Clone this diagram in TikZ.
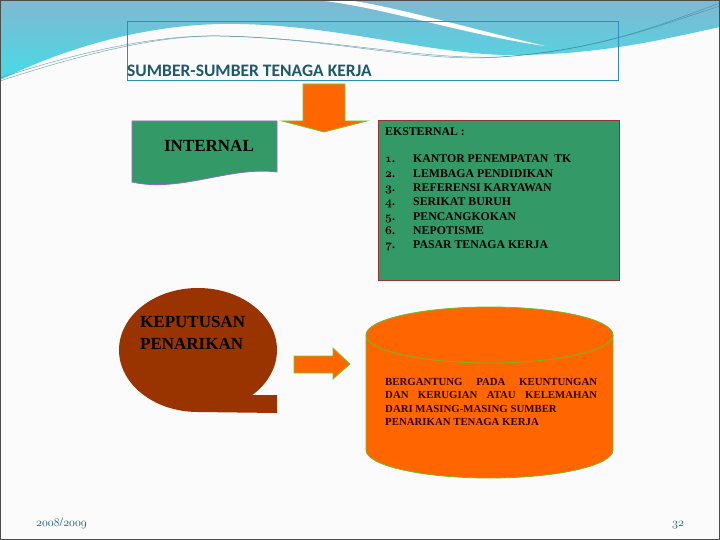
\documentclass[tikz,border=0pt]{standalone}
\usepackage{fontspec}
\setmainfont{Liberation Serif}
\newfontfamily\titlefont{Carlito}
\usetikzlibrary{shapes}
\usetikzlibrary{arrows}

\definecolor{slidebg}{HTML}{FBFBFB}
\definecolor{wavetop}{HTML}{80B8D2}
\definecolor{wavecyan}{HTML}{45DCE6}
\definecolor{waveline}{HTML}{3F8496}
\definecolor{titleblue}{HTML}{2B8DB8}
\definecolor{titletext}{HTML}{1B5A6B}
\definecolor{boxgreen}{HTML}{339966}
\definecolor{boxpurple}{HTML}{9966CC}
\definecolor{boxred}{HTML}{993333}
\definecolor{arroworange}{HTML}{FF6600}
\definecolor{arrowgreen}{HTML}{66CC33}
\definecolor{calloutbrown}{HTML}{993300}
\definecolor{cyltext}{HTML}{330000}

\newcommand{\osfnum}[1]{{\usefont{OML}{cmm}{m}{it}#1}}
\newcommand{\osfboldnum}[1]{{\usefont{OML}{cmm}{b}{it}#1}}

\begin{document}
\begin{tikzpicture}[x=1pt,y=-1pt,
  blockarrow/.style={fill=arroworange, draw=arrowgreen, line width=0.8pt},
  listtext/.style={anchor=base west, inner sep=0pt, font=\bfseries\fontsize{11.8}{13}\selectfont},
  bigtext/.style={inner sep=0pt, font=\bfseries\fontsize{17}{21.5}\selectfont},
  foottext/.style={anchor=base west, inner sep=0pt, text=titletext, font=\fontsize{13}{15}\selectfont}]
\useasboundingbox (0,0) rectangle (720,540);

%BACKGROUND
\fill [slidebg] (0,0) rectangle (720,540);
%Wave
\shade [top color=wavetop, bottom color=wavecyan] (0,0) -- (720,0) -- (720,27)
  .. controls (660,40) and (600,55) .. (510,55)
  .. controls (430,55) and (330,22) .. (220,24)
  .. controls (130,26) and (50,55) .. (0,80) -- cycle;
\fill [white] (315,0) .. controls (380,6) and (460,34) .. (545,46)
  .. controls (460,26) and (400,8) .. (348,0) -- cycle;
\foreach \d in {0,3}
{
\draw [waveline, line width=0.5pt, opacity=0.7] (0,78+\d) .. controls (100,45+\d) and (170,35) .. (220,36)
  .. controls (330,38) and (420,60+\d) .. (500,57)
  .. controls (600,50) and (660,25) .. (720,3+\d);
}
\draw [gray!60!black, line width=1.2pt] (0.6,0.6) rectangle (719.4,539.4);

%TITLE
\draw [titleblue, line width=0.8pt] (127,21) rectangle (618,80);
\node (title) [anchor=base west, inner sep=0pt, text=titletext,
  font=\titlefont\bfseries\fontsize{17.5}{20}\selectfont] at (127,77) {SUMBER-SUMBER TENAGA KERJA};

%Down Arrow
\filldraw [blockarrow] (303,84) -- (345,84) -- (345,121) -- (367,121) -- (324,132)
  -- (282,121) -- (303,121) -- cycle;

%INTERNAL
\filldraw [fill=boxgreen, draw=boxpurple, line width=0.8pt] (132,121) -- (277,121) -- (277,172)
  .. controls (230,166) and (180,193) .. (132,182) -- cycle;
\node (internal) [bigtext] at (209,146) {INTERNAL};

%EKSTERNAL
\filldraw [fill=boxgreen, draw=boxred, line width=1pt] (378,121) rectangle (619,280);
\node (eksternal) [listtext] at (385,136) {EKSTERNAL :};
\foreach \item [count=\i] in {KANTOR PENEMPATAN\ \ TK,LEMBAGA PENDIDIKAN,REFERENSI KARYAWAN,
  SERIKAT BURUH,PENCANGKOKAN,NEPOTISME,PASAR TENAGA KERJA}
{
\node (num\i) [listtext] at (385,163+14.3*\i-14.3) {\osfboldnum{\i}.};
\node (item\i) [listtext] at (413,163+14.3*\i-14.3) {\item};
}

%KEPUTUSAN PENARIKAN
\fill [calloutbrown] (198,350) ellipse [x radius=79, y radius=62];
\fill [calloutbrown] (250,395) -- (277,395) -- (277,413) -- (198,412) -- cycle;
\node (keputusan) [bigtext, anchor=base west, align=left] at (140,349) {KEPUTUSAN\\PENARIKAN};

%Right Arrow
\filldraw [blockarrow] (294,356) -- (333,356) -- (333,348) -- (350,364) -- (333,379)
  -- (333,373) -- (294,373) -- cycle;

%Cylinder
\filldraw [fill=arroworange, draw=arrowgreen!80!olive, line width=0.8pt] (366,335) -- (366,450)
  arc [start angle=180, end angle=0, x radius=123.5, y radius=28] -- (613,335) -- cycle;
\filldraw [fill=arroworange, draw=arrowgreen!80!olive, line width=0.8pt] (489.5,335)
  ellipse [x radius=123.5, y radius=28];
\node (bergantung) [anchor=north west, inner sep=0pt, align=left, text=cyltext,
  font=\bfseries\fontsize{10.8}{13.5}\selectfont] at (385,378)
  {\makebox[212pt][s]{BERGANTUNG PADA KEUNTUNGAN}\\
   \makebox[212pt][s]{DAN KERUGIAN ATAU KELEMAHAN}\\
   DARI MASING-MASING SUMBER\\
   PENARIKAN TENAGA KERJA};

%Footer
\node (year) [foottext] at (36,526) {\osfnum{2008}/\osfnum{2009}};
\node (page) [foottext] at (672,526) {\osfnum{32}};

\end{tikzpicture}
\end{document}
